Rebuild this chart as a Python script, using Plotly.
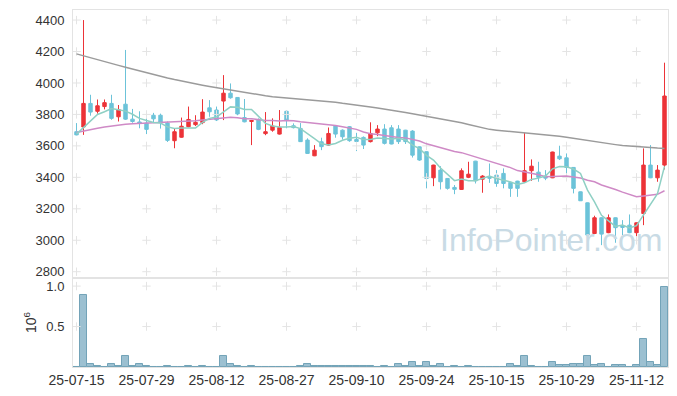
import plotly.graph_objects as go
from plotly.subplots import make_subplots

dates = [
    "25-07-15", "25-07-16", "25-07-17", "25-07-18", "25-07-21", "25-07-22", "25-07-23", "25-07-24", "25-07-25",
    "25-07-28", "25-07-29", "25-07-30", "25-07-31", "25-08-01", "25-08-04", "25-08-05", "25-08-06", "25-08-07",
    "25-08-08", "25-08-11", "25-08-12", "25-08-13", "25-08-14", "25-08-18", "25-08-19", "25-08-20", "25-08-21",
    "25-08-22", "25-08-25", "25-08-26", "25-08-27", "25-08-28", "25-08-29", "25-09-01", "25-09-02", "25-09-03",
    "25-09-04", "25-09-05", "25-09-08", "25-09-09", "25-09-10", "25-09-11", "25-09-12", "25-09-15", "25-09-16",
    "25-09-17", "25-09-18", "25-09-19", "25-09-22", "25-09-23", "25-09-24", "25-09-25", "25-09-26", "25-09-29",
    "25-09-30", "25-10-01", "25-10-02", "25-10-10", "25-10-13", "25-10-14", "25-10-15", "25-10-16", "25-10-17",
    "25-10-20", "25-10-21", "25-10-22", "25-10-23", "25-10-24", "25-10-27", "25-10-28", "25-10-29", "25-10-30",
    "25-10-31", "25-11-03", "25-11-04", "25-11-05", "25-11-06", "25-11-07", "25-11-10", "25-11-11", "25-11-12",
    "25-11-13", "25-11-14", "25-11-17", "25-11-18",
]

opens = [3690, 3720, 3870, 3820, 3850, 3870, 3785, 3865, 3770, 3752, 3745, 3795, 3795, 3745, 3633, 3655, 3722, 3735,
         3748, 3842, 3828, 3885, 3935, 3908, 3780, 3755, 3765, 3678, 3700, 3675, 3820, 3728, 3711, 3637, 3537, 3626,
         3605, 3726, 3700, 3722, 3641, 3654, 3627, 3683, 3707, 3715, 3707, 3700, 3694, 3594, 3563, 3397, 3446, 3393,
         3336, 3323, 3400, 3503, 3388, 3400, 3414, 3425, 3368, 3376, 3372, 3442, 3433, 3408, 3397, 3535, 3524, 3463,
         3308, 3238, 3043, 3143, 3048, 3143, 3090, 3096, 3048, 3170, 3478, 3397, 3478]
highs = [3745, 4400, 3925, 3895, 3895, 3925, 3860, 4210, 3835, 3820, 3775, 3810, 3805, 3755, 3708, 3780, 3850, 3795,
         3897, 3891, 3850, 4050, 3997, 3910, 3898, 3765, 3775, 3815, 3775, 3828, 3828, 3743, 3745, 3648, 3605, 3652,
         3717, 3728, 3705, 3726, 3683, 3660, 3750, 3732, 3738, 3732, 3732, 3702, 3700, 3596, 3565, 3480, 3471, 3395,
         3351, 3457, 3499, 3505, 3414, 3488, 3446, 3457, 3372, 3378, 3683, 3514, 3499, 3446, 3563, 3601, 3552, 3465,
         3310, 3240, 3156, 3145, 3164, 3145, 3128, 3164, 3113, 3584, 3605, 3478, 4129]
lows = [3667, 3670, 3792, 3805, 3832, 3766, 3755, 3765, 3747, 3712, 3675, 3750, 3710, 3625, 3585, 3652, 3718, 3726,
        3738, 3785, 3758, 3764, 3900, 3795, 3750, 3605, 3700, 3668, 3690, 3672, 3712, 3711, 3625, 3550, 3535, 3573,
        3600, 3652, 3640, 3626, 3567, 3580, 3622, 3662, 3609, 3610, 3612, 3612, 3526, 3505, 3330, 3344, 3323, 3322,
        3293, 3320, 3395, 3361, 3302, 3365, 3340, 3330, 3276, 3276, 3370, 3378, 3372, 3382, 3395, 3510, 3393, 3298,
        3250, 2997, 3039, 2969, 3045, 2984, 3033, 3045, 3005, 3096, 3395, 3372, 3450]
closes = [3670, 3870, 3815, 3855, 3875, 3775, 3830, 3770, 3755, 3745, 3705, 3772, 3748, 3635, 3690, 3725, 3768, 3750,
          3815, 3817, 3765, 3935, 3906, 3803, 3753, 3762, 3705, 3690, 3726, 3717, 3764, 3716, 3627, 3552, 3573, 3595,
          3679, 3675, 3658, 3633, 3628, 3605, 3679, 3707, 3616, 3612, 3627, 3627, 3541, 3510, 3393, 3478, 3372, 3330,
          3324, 3442, 3420, 3378, 3408, 3395, 3361, 3361, 3330, 3330, 3442, 3471, 3400, 3395, 3561, 3518, 3463, 3330,
          3251, 3033, 3143, 3039, 3143, 3080, 3082, 3048, 3111, 3478, 3397, 3446, 3917]

ma5 = [3675, 3715, 3760, 3800, 3817, 3838, 3830, 3821, 3801, 3775, 3761, 3749, 3745, 3721, 3710, 3714, 3713, 3714,
       3750, 3775, 3783, 3816, 3848, 3845, 3832, 3832, 3786, 3743, 3727, 3720, 3720, 3723, 3710, 3675, 3646, 3613,
       3605, 3615, 3636, 3648, 3655, 3640, 3641, 3650, 3647, 3644, 3648, 3638, 3605, 3583, 3540, 3510, 3459, 3417,
       3379, 3389, 3378, 3379, 3394, 3409, 3392, 3381, 3371, 3355, 3365, 3387, 3395, 3408, 3454, 3469, 3467, 3453,
       3425, 3319, 3244, 3159, 3122, 3088, 3097, 3078, 3093, 3160, 3223, 3296, 3470]
ma20 = [3685, 3695, 3703, 3712, 3720, 3727, 3733, 3737, 3740, 3742, 3744, 3745, 3747, 3749, 3751, 3753, 3756, 3760,
        3765, 3769, 3774, 3777, 3782, 3779, 3773, 3772, 3766, 3762, 3761, 3759, 3762, 3760, 3753, 3749, 3743, 3737,
        3733, 3729, 3721, 3712, 3705, 3688, 3677, 3672, 3665, 3658, 3654, 3651, 3642, 3631, 3613, 3601, 3588, 3577,
        3564, 3557, 3544, 3529, 3517, 3505, 3491, 3479, 3462, 3443, 3434, 3427, 3416, 3404, 3405, 3405, 3409, 3402,
        3396, 3381, 3372, 3351, 3338, 3323, 3306, 3289, 3277, 3282, 3286, 3292, 3315]
ma120 = [4185, 4172, 4160, 4148, 4137, 4125, 4112, 4100, 4088, 4076, 4064, 4052, 4042, 4032, 4022, 4012, 4003, 3994,
         3986, 3978, 3970, 3963, 3957, 3951, 3943, 3935, 3926, 3919, 3913, 3909, 3906, 3903, 3900, 3896, 3892, 3888,
         3884, 3878, 3871, 3864, 3857, 3852, 3847, 3841, 3835, 3829, 3822, 3813, 3805, 3797, 3789, 3780, 3771, 3762,
         3754, 3747, 3736, 3725, 3714, 3705, 3700, 3696, 3692, 3688, 3684, 3680, 3675, 3671, 3667, 3662, 3655, 3648,
         3640, 3632, 3626, 3620, 3614, 3608, 3602, 3598, 3594, 3591, 3588, 3586, 3584]

volumes = [3000, 890000, 40000, 17000, 5000, 35000, 8000, 140000, 17000, 35000, 17000, 5000, 5000, 17000, 5000,
           5000, 17000, 5000, 17000, 5000, 5000, 140000, 35000, 8000, 5000, 17000, 5000, 5000, 5000, 5000, 5000,
           5000, 17000, 35000, 8000, 8000, 10000, 8000, 8000, 8000, 17000, 17000, 17000, 6000, 17000, 6000, 35000,
           17000, 57000, 17000, 57000, 17000, 35000, 6000, 17000, 6000, 17000, 6000, 2000, 6000, 6000, 6000, 40000,
           17000, 140000, 17000, 6000, 6000, 57000, 25000, 25000, 40000, 40000, 140000, 25000, 40000, 6000, 30000,
           30000, 6000, 30000, 350000, 65000, 30000, 990000]

price_ticks = [2800, 3000, 3200, 3400, 3600, 3800, 4000, 4200, 4400]
vol_ticks = [0.5, 1.0]
tick_idx = list(range(0, 81, 10))
tick_dates = [dates[i] for i in tick_idx]

fig = make_subplots(rows=2, cols=1, shared_xaxes=True, vertical_spacing=0,
                    row_heights=[0.7507, 0.2493])

# grid crosses at tick intersections
gx, gy = [], []
for d in tick_dates:
    for p in price_ticks:
        gx.append(d); gy.append(p)
fig.add_trace(go.Scatter(x=gx, y=gy, mode="markers",
                         marker=dict(symbol="cross-thin", size=6, line=dict(color="#e4e4e4", width=1)),
                         hoverinfo="skip", showlegend=False), row=1, col=1)
vx, vy = [], []
for d in tick_dates:
    for v in vol_ticks:
        vx.append(d); vy.append(v)
fig.add_trace(go.Scatter(x=vx, y=vy, mode="markers",
                         marker=dict(symbol="cross-thin", size=6, line=dict(color="#e4e4e4", width=1)),
                         hoverinfo="skip", showlegend=False), row=2, col=1)

fig.add_trace(go.Scatter(x=dates, y=ma120, mode="lines", line=dict(color="#9b9b9b", width=1.5),
                         showlegend=False), row=1, col=1)
fig.add_trace(go.Scatter(x=dates, y=ma20, mode="lines", line=dict(color="#cf8ac6", width=1.5),
                         showlegend=False), row=1, col=1)
fig.add_trace(go.Scatter(x=dates, y=ma5, mode="lines", line=dict(color="#8fd0c4", width=1.5),
                         showlegend=False), row=1, col=1)

fig.add_trace(go.Candlestick(x=dates, open=opens, high=highs, low=lows, close=closes,
                             increasing=dict(line=dict(color="#ec3338", width=1), fillcolor="#ec3338"),
                             decreasing=dict(line=dict(color="#6cc3d9", width=1), fillcolor="#6cc3d9"),
                             whiskerwidth=0, showlegend=False), row=1, col=1)

fig.add_trace(go.Bar(x=dates, y=[v / 1e6 for v in volumes],
                     marker=dict(color="#9cc0d1", line=dict(color="#73a3b8", width=1)),
                     showlegend=False), row=2, col=1)

axis_font = dict(family="Liberation Sans, Arial, sans-serif", size=13, color="#333333")

fig.update_xaxes(type="category", categoryorder="array", categoryarray=dates,
                 range=[-0.5, 84.5], showgrid=False, zeroline=False, automargin=False,
                 showline=True, linecolor="#e3e3e3", linewidth=1, mirror=True,
                 tickmode="array", tickvals=tick_dates, ticktext=tick_dates, tickangle=0,
                 tickfont=dict(family="Liberation Sans, Arial, sans-serif", size=14, color="#333333"),
                 ticks="", rangeslider=dict(visible=False))
fig.update_xaxes(showticklabels=False, row=1, col=1)
fig.update_xaxes(showticklabels=True, row=2, col=1)

fig.update_yaxes(range=[2760, 4464], tickvals=price_ticks, showgrid=False, zeroline=False, automargin=False,
                 showline=True, linecolor="#e3e3e3", mirror=True, tickfont=axis_font, ticks="",
                 ticklabelstandoff=5, row=1, col=1)
fig.update_yaxes(range=[0, 1.1], tickvals=vol_ticks, ticktext=["0.5", "1.0"], showgrid=False, zeroline=False,
                 automargin=False,
                 showline=True, linecolor="#e3e3e3", mirror=True, tickfont=axis_font, ticks="",
                 ticklabelstandoff=5,
                 title=dict(text="10<sup>6</sup>", font=dict(family="Liberation Sans, Arial, sans-serif",
                                                             size=14, color="#333333"), standoff=6),
                 row=2, col=1)

fig.add_annotation(text="InfoPointer.com", xref="paper", yref="paper", x=0.803, y=0.355,
                   xanchor="center", yanchor="middle",
                   showarrow=False, font=dict(family="Liberation Sans, Arial, sans-serif", size=32,
                                              color="#c9dbe5"))

fig.update_layout(width=677, height=396, margin=dict(l=73, r=9, t=10, b=29, autoexpand=False),
                  paper_bgcolor="white", plot_bgcolor="white", bargap=0, showlegend=False)

fig.write_html("out.html", config={"displayModeBar": False},
               post_script="document.body.style.margin='0';document.body.style.overflow='hidden';")
